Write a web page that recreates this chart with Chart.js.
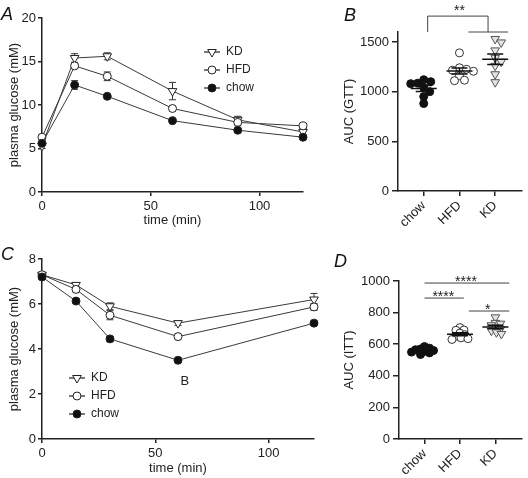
<!DOCTYPE html>
<html>
<head>
<meta charset="utf-8">
<script src="https://cdn.jsdelivr.net/npm/chart.js@4.4.0/dist/chart.umd.min.js"></script>
<style>
  body { margin: 0; background: #fff; }
  #fig { position: relative; width: 528px; height: 478px; overflow: hidden; font-family: "Liberation Sans", Arial, sans-serif; }
  canvas { position: absolute; }
  .panel { position: absolute; font-size: 18px; font-style: italic; line-height: 18px; color: #111; }
</style>
</head>
<body>
<div id="fig">
  <canvas id="gtt" width="330" height="235" style="left:0;top:0"></canvas>
  <canvas id="gttAuc" width="198" height="235" style="left:330px;top:0"></canvas>
  <canvas id="itt" width="330" height="243" style="left:0;top:235px"></canvas>
  <canvas id="ittAuc" width="198" height="243" style="left:330px;top:235px"></canvas>
  <div class="panel" style="left:1px;top:5px">A</div>
  <div class="panel" style="left:344px;top:6px">B</div>
  <div class="panel" style="left:1px;top:245px">C</div>
  <div class="panel" style="left:334px;top:252px">D</div>
</div>
<script>
// Glucose tolerance test (mean, SEM), mM
const gttTimes = [0, 15, 30, 60, 90, 120];
const gttKD = [5.3, 15.4, 15.6, 11.6, 8.3, 6.9];
const gttKDErr = [0.3, 0.5, 0.4, 1.0, 0.4, 0.3];
const gttHFD = [6.3, 14.5, 13.3, 9.6, 8.0, 7.6];
const gttHFDErr = [0.3, 0.3, 0.5, 0.3, 0.3, 0.3];
const gttChow = [5.6, 12.3, 11.0, 8.2, 7.1, 6.3];
const gttChowErr = [0.2, 0.5, 0.2, 0.2, 0.2, 0.2];

// Insulin tolerance test (mean, SEM), mM
const ittTimes = [0, 15, 30, 60, 120];
const ittKD = [7.3, 6.85, 5.9, 5.15, 6.2];
const ittKDErr = [0.1, 0.1, 0.15, 0.1, 0.27];
const ittHFD = [7.3, 6.65, 5.5, 4.55, 5.87];
const ittHFDErr = [0.1, 0.1, 0.2, 0.1, 0.15];
const ittChow = [7.2, 6.13, 4.45, 3.5, 5.15];
const ittChowErr = [0.1, 0.1, 0.1, 0.1, 0.1];

// AUC per animal
const groups = ["chow", "HFD", "KD"];
const gttAucChow = [1120, 1100, 1085, 1080, 1040, 1000, 950, 880];
const gttAucHFD = [1390, 1240, 1225, 1215, 1205, 1160, 1115, 1110];
const gttAucKD = [1530, 1495, 1415, 1340, 1300, 1260, 1175, 1095];
const ittAucChow = [585, 575, 570, 565, 560, 555, 550, 545, 535];
const ittAucHFD = [705, 690, 688, 670, 660, 650, 640, 635, 630];
const ittAucKD = [770, 735, 730, 720, 705, 695, 685, 675, 665];

// tick labels
const timeTicks = [0, 50, 100];
const gttTicks = [0, 5, 10, 15, 20];
const ittTicks = [0, 2, 4, 6, 8];
const gttAucTicks = [0, 500, 1000, 1500];
const ittAucTicks = [0, 200, 400, 600, 800, 1000];

const FONT = "'Liberation Sans', Arial, Helvetica, sans-serif";
Chart.defaults.font.family = FONT;
Chart.defaults.font.size = 13;
Chart.defaults.color = "#222";
Chart.defaults.animation = false;
Chart.defaults.events = [];
Chart.defaults.plugins.legend.display = false;
Chart.defaults.plugins.tooltip.enabled = false;

const curveMarker = {
  KD: { pointStyle: "triangle", pointRotation: 180, pointRadius: 5, pointBackgroundColor: "#fff" },
  HFD: { pointStyle: "circle", pointRadius: 4, pointBackgroundColor: "#fff" },
  chow: { pointStyle: "circle", pointRadius: 4, pointBackgroundColor: "#111" },
};
const dotMarker = {
  chow: { pointStyle: "circle", pointRadius: 4, pointBackgroundColor: "#111", pointBorderColor: "#111" },
  HFD: { pointStyle: "circle", pointRadius: 4, pointBackgroundColor: "#fff", pointBorderColor: "#333" },
  KD: { pointStyle: "triangle", pointRotation: 180, pointRadius: 5, pointBackgroundColor: "#e4e4e4", pointBorderColor: "#555" },
};

function curve(label, xs, ys, errs, order) {
  return Object.assign({
    label, order, err: errs,
    data: xs.map((t, i) => ({ x: t, y: ys[i] })),
    borderColor: "#3a3a3a", borderWidth: 1, tension: 0, clip: false,
    pointBorderColor: "#222", pointBorderWidth: 1,
  }, curveMarker[label]);
}

function dots(label, vals) {
  const g = groups.indexOf(label);
  return Object.assign({
    label, showLine: false, clip: false, pointBorderWidth: 1,
    data: vals.map((v) => ({ x: g + 1, y: v })),
  }, dotMarker[label]);
}

function axis(o) {
  const ticks = { color: "#222", padding: o.pad, font: { size: 13 }, callback: (v) => String(v) };
  if (o.labels) {
    ticks.minRotation = 45;
    ticks.maxRotation = 45;
    ticks.autoSkip = false;
    ticks.callback = (v) => o.labels[Math.round(v) - 1];
  }
  return {
    type: "linear", min: o.min, max: o.max,
    afterBuildTicks: (s) => { s.ticks = o.ticks.map((v) => ({ value: v })); },
    afterFit: (s) => {
      if (o.height) s.height = o.height;
      if (o.width) s.width = o.width;
    },
    border: { color: "#222", width: 1.5 },
    grid: { drawOnChartArea: false, color: "#222", lineWidth: 1.5, tickLength: o.tick },
    ticks,
    title: { display: !!o.title, text: o.title || "", color: "#222", font: { size: 13 }, padding: o.titlePad || 4 },
  };
}

function drawMarker(ctx, ds, x, y) {
  const r = ds.pointRadius;
  ctx.beginPath();
  if (ds.pointStyle === "triangle") {
    let a = (ds.pointRotation || 0) * Math.PI / 180;
    for (let k = 0; k < 3; k++) {
      const px = x + Math.sin(a) * r, py = y - Math.cos(a) * r;
      if (k) ctx.lineTo(px, py); else ctx.moveTo(px, py);
      a += 2 * Math.PI / 3;
    }
    ctx.closePath();
  } else {
    ctx.arc(x, y, r, 0, 2 * Math.PI);
  }
  ctx.fillStyle = ds.pointBackgroundColor;
  ctx.fill();
  ctx.lineWidth = ds.pointBorderWidth;
  ctx.strokeStyle = ds.pointBorderColor;
  ctx.stroke();
}

// SEM bars on the time curves
const errorBars = {
  id: "errorBars",
  beforeDatasetsDraw(chart) {
    const { ctx, scales: { x, y } } = chart;
    ctx.save();
    ctx.lineWidth = 1;
    ctx.strokeStyle = "#333";
    chart.data.datasets.forEach((ds) => {
      ds.data.forEach((p, i) => {
        const e = ds.err[i];
        const px = x.getPixelForValue(p.x);
        const top = y.getPixelForValue(p.y + e);
        const bot = y.getPixelForValue(p.y - e);
        ctx.beginPath();
        ctx.moveTo(px, top); ctx.lineTo(px, bot);
        ctx.moveTo(px - 3.5, top); ctx.lineTo(px + 3.5, top);
        ctx.moveTo(px - 3.5, bot); ctx.lineTo(px + 3.5, bot);
        ctx.stroke();
      });
    });
    ctx.restore();
  },
};

// legend with a line through the marker, like Prism
function lineLegend(pos) {
  return {
    id: "lineLegend",
    afterDraw(chart) {
      const ctx = chart.ctx;
      ctx.save();
      chart.data.datasets.forEach((ds, i) => {
        const y = pos.y + i * pos.gap;
        ctx.strokeStyle = "#222";
        ctx.lineWidth = 1.2;
        ctx.beginPath();
        ctx.moveTo(pos.x - 1, y);
        ctx.lineTo(pos.x + 15, y);
        ctx.stroke();
        drawMarker(ctx, ds, pos.x + 7, y);
        ctx.fillStyle = "#222";
        ctx.font = "12px " + FONT;
        ctx.textBaseline = "middle";
        ctx.fillText(ds.label, pos.x + 21, y);
      });
      ctx.restore();
    },
  };
}

// mean line with SEM whiskers for each group
const meanSem = {
  id: "meanSem",
  afterDatasetsDraw(chart) {
    const { ctx, scales: { x, y } } = chart;
    ctx.save();
    ctx.strokeStyle = "#111";
    ctx.lineWidth = 1.5;
    chart.data.datasets.forEach((ds) => {
      const vals = ds.data.map((p) => p.y);
      const n = vals.length;
      const m = vals.reduce((s, v) => s + v, 0) / n;
      const sd = Math.sqrt(vals.reduce((s, v) => s + (v - m) * (v - m), 0) / (n - 1));
      const sem = sd / Math.sqrt(n);
      const cx = x.getPixelForValue(groups.indexOf(ds.label) + 1);
      const ym = y.getPixelForValue(m), yt = y.getPixelForValue(m + sem), yb = y.getPixelForValue(m - sem);
      ctx.beginPath();
      ctx.moveTo(cx - 13, ym); ctx.lineTo(cx + 13, ym);
      ctx.moveTo(cx, yt); ctx.lineTo(cx, yb);
      ctx.moveTo(cx - 8, yt); ctx.lineTo(cx + 8, yt);
      ctx.moveTo(cx - 8, yb); ctx.lineTo(cx + 8, yb);
      ctx.stroke();
    });
    ctx.restore();
  },
};

// significance lines and text, given in data units
function marks(items) {
  return {
    id: "marks",
    afterDraw(chart) {
      const { ctx, scales: { x, y } } = chart;
      ctx.save();
      ctx.strokeStyle = "#444";
      ctx.lineWidth = 1;
      ctx.fillStyle = "#222";
      ctx.textAlign = "center";
      items.forEach((it) => {
        ctx.beginPath();
        (it.lines || []).forEach(([x1, y1, x2, y2]) => {
          ctx.moveTo(x.getPixelForValue(x1), y.getPixelForValue(y1));
          ctx.lineTo(x.getPixelForValue(x2), y.getPixelForValue(y2));
        });
        ctx.stroke();
        ctx.font = (it.size || 14) + "px " + FONT;
        ctx.textBaseline = it.baseline || "alphabetic";
        ctx.fillText(it.text, x.getPixelForValue(it.tx), y.getPixelForValue(it.ty) + (it.dy || 0));
      });
      ctx.restore();
    },
  };
}

// simple beeswarm: spread overlapping points sideways, in pixels
function swarm(chart, minDist) {
  const xs = chart.scales.x, ys = chart.scales.y;
  const pxPerUnit = xs.getPixelForValue(1) - xs.getPixelForValue(0);
  chart.data.datasets.forEach((ds) => {
    const g = groups.indexOf(ds.label) + 1;
    const placed = [];
    const order = ds.data.map((p, i) => i).sort((a, b) => ds.data[b].y - ds.data[a].y);
    order.forEach((i) => {
      const py = ys.getPixelForValue(ds.data[i].y);
      let dx = 0;
      for (let k = 0; k < 80; k++) {
        const cand = (k % 2 ? 1 : -1) * Math.ceil(k / 2);
        if (placed.every((q) => Math.hypot(q.x - cand, q.y - py) >= minDist)) { dx = cand; break; }
      }
      placed.push({ x: dx, y: py });
      ds.data[i].x = g + dx / pxPerUnit;
    });
  });
  chart.update("none");
}

// A: GTT curves
new Chart(document.getElementById("gtt"), {
  type: "line",
  data: {
    datasets: [
      curve("KD", gttTimes, gttKD, gttKDErr, 2),
      curve("HFD", gttTimes, gttHFD, gttHFDErr, 1),
      curve("chow", gttTimes, gttChow, gttChowErr, 0),
    ],
  },
  options: {
    responsive: false,
    layout: { padding: { left: 3, top: 18, right: 27, bottom: 5 } },
    scales: {
      x: axis({ min: 0, max: 120, ticks: timeTicks, title: "time (min)", height: 38, tick: 4, pad: 3, titlePad: 2 }),
      y: axis({ min: 0, max: 20, ticks: gttTicks, title: "plasma glucose (mM)", width: 39, tick: 4, pad: 2 }),
    },
  },
  plugins: [errorBars, lineLegend({ x: 205, y: 52, gap: 18 })],
});

// C: ITT curves
new Chart(document.getElementById("itt"), {
  type: "line",
  data: {
    datasets: [
      curve("KD", ittTimes, ittKD, ittKDErr, 2),
      curve("HFD", ittTimes, ittHFD, ittHFDErr, 1),
      curve("chow", ittTimes, ittChow, ittChowErr, 0),
    ],
  },
  options: {
    responsive: false,
    layout: { padding: { left: 3, top: 24, right: 16, bottom: 0 } },
    scales: {
      x: axis({ min: 0, max: 120, ticks: timeTicks, title: "time (min)", height: 39, tick: 4, pad: 3, titlePad: 2 }),
      y: axis({ min: 0, max: 8, ticks: ittTicks, title: "plasma glucose (mM)", width: 39, tick: 4, pad: 2 }),
    },
  },
  plugins: [
    errorBars,
    lineLegend({ x: 70, y: 143, gap: 18 }),
    marks([{ text: "B", tx: 63, ty: 2.58, size: 13, baseline: "middle" }]),
  ],
});

// B: GTT AUC
const gttAucChart = new Chart(document.getElementById("gttAuc"), {
  type: "scatter",
  data: { datasets: [dots("chow", gttAucChow), dots("HFD", gttAucHFD), dots("KD", gttAucKD)] },
  options: {
    responsive: false,
    layout: { padding: { left: 8, top: 32, right: 5, bottom: 0 } },
    scales: {
      x: axis({ min: 0.28, max: 3.75, ticks: groups.map((g, i) => i + 1), labels: groups, height: 44, tick: 5, pad: 2 }),
      y: axis({ min: 0, max: 1600, ticks: gttAucTicks, title: "AUC (GTT)", width: 60, tick: 6, pad: 3 }),
    },
  },
  plugins: [
    meanSem,
    marks([{
      lines: [[1.11, 1760, 2.8, 1760], [1.11, 1760, 1.11, 1600], [2.8, 1760, 2.8, 1600], [2.25, 1600, 3.36, 1600]],
      text: "**", tx: 2.0, ty: 1760, dy: -1.5,
    }]),
  ],
});
swarm(gttAucChart, 6.5);

// D: ITT AUC
const ittAucChart = new Chart(document.getElementById("ittAuc"), {
  type: "scatter",
  data: { datasets: [dots("chow", ittAucChow), dots("HFD", ittAucHFD), dots("KD", ittAucKD)] },
  options: {
    responsive: false,
    layout: { padding: { left: 8, top: 46, right: 5, bottom: 0 } },
    scales: {
      x: axis({ min: 0.28, max: 3.75, ticks: groups.map((g, i) => i + 1), labels: groups, height: 39, tick: 5, pad: 2 }),
      y: axis({ min: 0, max: 1000, ticks: ittAucTicks, title: "AUC (ITT)", width: 61, tick: 6, pad: 3 }),
    },
  },
  plugins: [
    meanSem,
    marks([
      { lines: [[1, 987, 3.39, 987]], text: "****", tx: 2.17, ty: 987, dy: 3 },
      { lines: [[1, 892, 2.11, 892]], text: "****", tx: 1.53, ty: 892, dy: 3 },
      { lines: [[2.25, 810, 3.39, 810]], text: "*", tx: 2.78, ty: 810, dy: 3 },
    ]),
  ],
});
swarm(ittAucChart, 4.5);
</script>
</body>
</html>
